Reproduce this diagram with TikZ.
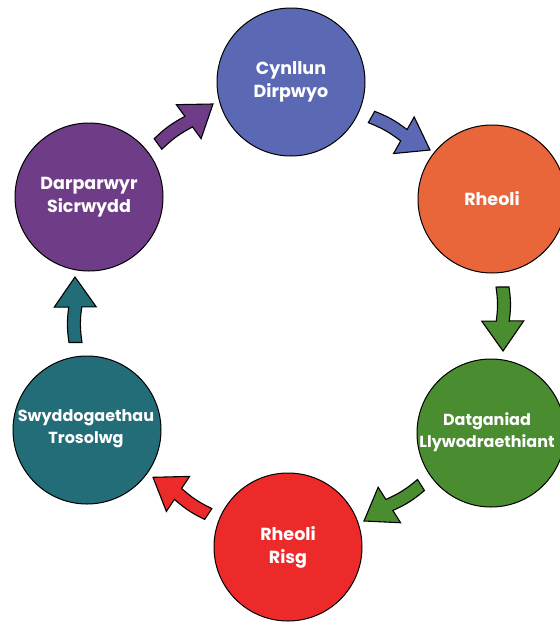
\documentclass[tikz,border=0pt]{standalone}
\usepackage{fontspec}
\setmainfont{Poppins}
\usetikzlibrary{calc}
\definecolor{cblue}{HTML}{5B69B5}
\definecolor{corange}{HTML}{E8663A}
\definecolor{cgreen}{HTML}{4A8C30}
\definecolor{cred}{HTML}{EC2A2A}
\definecolor{cteal}{HTML}{226D78}
\definecolor{cpurple}{HTML}{6F3D88}
\tikzset{
  circ/.style={circle, draw=black, line width=1pt, minimum size=148pt, inner sep=0pt,
    text=white, align=center, font=\bfseries\fontsize{17.5}{23}\selectfont},
  small/.style={font=\bfseries\fontsize{16}{22}\selectfont},
  txt/.style={text=white, align=center, inner sep=0pt},
  barr/.style={draw=black, line width=1.1pt, line join=miter}
}
\newcommand\blockarrow[3]{%
  \coordinate (J) at ($(#3)!30pt!(#2)$);
  \path[barr, fill=#1] ($(#2)!6.5pt!90:(#3)$) to[bend left=8] ($(J)!6.5pt!90:(#3)$)
    -- ($(J)!21pt!90:(#3)$) -- (#3) -- ($(J)!21pt!-90:(#3)$)
    -- ($(J)!6.5pt!-90:(#3)$) to[bend right=8] ($(#2)!6.5pt!-90:(#3)$) -- cycle;
}
\begin{document}
\begin{tikzpicture}[x=1pt,y=-1pt]
\useasboundingbox[fill=white] (0,0) rectangle (560,622);
\node[circ, fill=cblue] (cyn) at (291,82) {Cynllun\\Dirpwyo};
\node[circ, fill=corange] (rhe) at (492,199) {Rheoli};
\node[circ, fill=cgreen] (dat) at (491,433) {};
\node[txt, small] (datt) at ($(dat)+(-4,-1)$) {Datganiad\\Llywodraethiant};
\node[circ, fill=cred] (ris) at (288,547) {Rheoli\\Risg};
\node[circ, fill=cteal] (swy) at (87,430) {};
\node[txt, small] (swyt) at ($(swy)+(-1,-1)$) {Swyddogaethau\\Trosolwg};
\node[circ, fill=cpurple] (dar) at (89,197) {Darparwyr\\Sicrwydd};
\coordinate (a1t) at (158,144); \coordinate (a1h) at (213,104);
\coordinate (a2t) at (371.5,117); \coordinate (a2h) at (430,150);
\coordinate (a3t) at (502.5,287); \coordinate (a3h) at (503,351);
\coordinate (a4t) at (421,485); \coordinate (a4h) at (364,521);
\coordinate (a5t) at (208.3,514); \coordinate (a5h) at (153,477.3);
\coordinate (a6t) at (75.5,342.5); \coordinate (a6h) at (75,277);
\blockarrow{cpurple}{a1t}{a1h}
\blockarrow{cblue}{a2t}{a2h}
\blockarrow{cgreen}{a3t}{a3h}
\blockarrow{cgreen}{a4t}{a4h}
\blockarrow{cred}{a5t}{a5h}
\blockarrow{cteal}{a6t}{a6h}
\end{tikzpicture}
\end{document}
